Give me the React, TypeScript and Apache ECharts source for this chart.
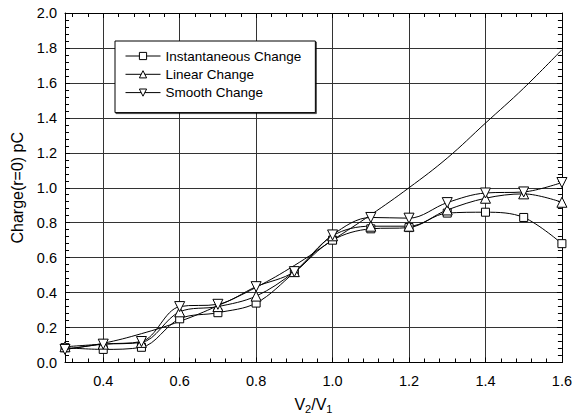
import React, { useEffect, useRef } from "react";
import * as echarts from "echarts";

const ratios = [0.3, 0.4, 0.5, 0.6, 0.7, 0.8, 0.9, 1.0, 1.1, 1.2, 1.3, 1.4, 1.5, 1.6];
const instantaneous = [0.085, 0.075, 0.087, 0.25, 0.285, 0.34, 0.515, 0.70, 0.765, 0.772, 0.855, 0.86, 0.83, 0.68];
const linear = [0.09, 0.105, 0.115, 0.29, 0.32, 0.38, 0.52, 0.725, 0.78, 0.78, 0.873, 0.94, 0.965, 0.917];
const smoothChange = [0.075, 0.105, 0.12, 0.32, 0.333, 0.434, 0.52, 0.73, 0.83, 0.826, 0.915, 0.97, 0.976, 1.03];
const theory = [0.075, 0.11, 0.165, 0.235, 0.325, 0.43, 0.555, 0.70, 0.845, 1.0, 1.17, 1.37, 1.57, 1.79];
const seriesNames = ["Instantaneous Change", "Linear Change", "Smooth Change"];

const FONT = "Liberation Sans, Arial, Helvetica, sans-serif";
const downTri = "path://M0,0 L10,0 L5,9 Z";

function pts(vals: number[]) {
  return ratios.map((x, i) => [x, vals[i]]);
}

export default function App() {
  const ref = useRef<HTMLDivElement>(null);
  useEffect(() => {
    if (!ref.current) return;
    const chart = echarts.init(ref.current, undefined, { renderer: "svg" });
    const fmt = (v: number) => v.toFixed(1);
    const xCommon = {
      type: "value",
      min: 0.3,
      max: 1.6,
      splitNumber: 7,
      minInterval: 0.2,
      maxInterval: 0.2,
      axisLine: { show: true, onZero: false, lineStyle: { color: "#000", width: 1 } },
      axisTick: { show: true, inside: true, length: 5, lineStyle: { color: "#000" } },
      minorTick: { show: true, splitNumber: 5, length: 4, lineStyle: { color: "#000" } },
    };
    const yCommon = {
      type: "value",
      min: 0,
      max: 2,
      interval: 0.2,
      axisLine: { show: true, onZero: false, lineStyle: { color: "#000", width: 1 } },
      axisTick: { show: true, inside: true, length: 5, lineStyle: { color: "#000" } },
      minorTick: { show: true, splitNumber: 5, length: 4, lineStyle: { color: "#000" } },
    };
    const mkLine = (name: string, vals: number[], symbol: string, size: number) => ({
      type: "line",
      name,
      data: pts(vals),
      smooth: 0.35,
      symbol,
      symbolSize: size,
      showAllSymbol: true,
      lineStyle: { color: "#000", width: 1 },
      itemStyle: { color: "#fff", borderColor: "#000", borderWidth: 1 },
      z: 3,
    });
    chart.setOption({
      animation: false,
      backgroundColor: "#fff",
      textStyle: { fontFamily: FONT },
      grid: { left: 65, right: 9, top: 13, bottom: 57.5, containLabel: false },
      legend: {
        data: seriesNames,
        orient: "vertical",
        left: 115,
        top: 41,
        backgroundColor: "#fff",
        borderColor: "#000",
        borderWidth: 1,
        shadowColor: "rgba(0,0,0,0.7)",
        shadowOffsetX: 1,
        shadowOffsetY: 1,
        shadowBlur: 0,
        padding: [8, 14, 13, 10],
        itemWidth: 35,
        itemHeight: 9,
        itemGap: 4.3,
        lineStyle: { width: 1, color: "#000" },
        itemStyle: { color: "#fff", borderColor: "#000", borderWidth: 1 },
        textStyle: { fontSize: 13.5, color: "#000", fontFamily: FONT, lineHeight: 14 },
      },
      xAxis: [
        {
          ...xCommon,
          position: "bottom",
          name: "{a|V}{s|2}{a|/V}{s|1}",
          nameLocation: "middle",
          nameGap: 33,
          nameTextStyle: {
            rich: {
              a: { fontSize: 16, color: "#000", fontFamily: FONT, lineHeight: 18 },
              s: { fontSize: 11, color: "#000", fontFamily: FONT, lineHeight: 18, padding: [8, 0, 0, 0] },
            },
          },
          axisLabel: { show: true, showMinLabel: false, fontSize: 14.5, color: "#000", margin: 11, formatter: fmt },
          splitLine: { show: true, lineStyle: { color: "#333", width: 1 } },
        },
        {
          ...xCommon,
          position: "top",
          axisLabel: { show: false },
          splitLine: { show: false },
        },
      ],
      yAxis: [
        {
          ...yCommon,
          position: "left",
          name: "Charge(r=0) pC",
          nameLocation: "middle",
          nameGap: 40,
          nameTextStyle: { fontSize: 16, color: "#000", fontFamily: FONT },
          axisLabel: { show: true, fontSize: 14.5, color: "#000", margin: 8, formatter: fmt },
          splitLine: { show: true, lineStyle: { color: "#333", width: 1 } },
        },
        {
          ...yCommon,
          position: "right",
          axisLabel: { show: false },
          splitLine: { show: false },
        },
      ],
      series: [
        mkLine(seriesNames[0], instantaneous, "rect", 8),
        mkLine(seriesNames[1], linear, "triangle", 10),
        mkLine(seriesNames[2], smoothChange, downTri, 10),
        {
          type: "line",
          name: "Theory",
          data: pts(theory),
          smooth: 0.4,
          symbol: "none",
          lineStyle: { color: "#000", width: 1 },
          z: 2,
        },
      ],
    });
    return () => chart.dispose();
  }, []);
  return (
    <div
      ref={ref}
      style={{ position: "absolute", left: 0, top: 0, width: 575, height: 420, background: "#fff" }}
    />
  );
}
